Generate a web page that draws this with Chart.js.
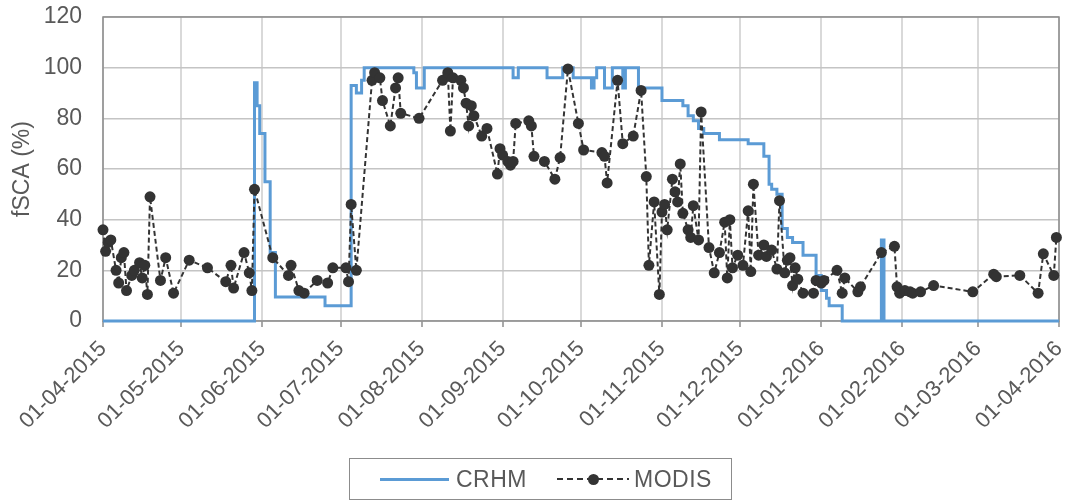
<!DOCTYPE html>
<html>
<head>
<meta charset="utf-8">
<title>fSCA CRHM vs MODIS</title>
<script src="https://cdn.jsdelivr.net/npm/chart.js@4.4.1/dist/chart.umd.min.js"></script>
<style>
  body { margin: 0; background: #fff; }
  #wrap { position: relative; width: 1072px; height: 502px; }
  #legend {
    position: absolute; left: 349px; top: 458px; width: 383px; height: 42px;
    border: 1.5px solid #8c8c8c; box-sizing: border-box;
    display: flex; align-items: center;
    font-family: "Liberation Sans", Arial, sans-serif; font-size: 23px; color: #595959;
    letter-spacing: 0.5px;
  }
  .swatch { position: relative; display: inline-block; flex: none; }
  .crhm { margin-left: 30px; margin-right: 7px; width: 69px; height: 3px; background: #5b9bd5; }
  .modis {
    margin-left: 30px; margin-right: 5px; width: 72px; height: 2px;
    background: repeating-linear-gradient(to right, #333 0 6px, transparent 6px 10px);
  }
  .modis::after {
    content: ""; position: absolute; left: 31px; top: -4.5px;
    width: 11px; height: 11px; border-radius: 50%; background: #333;
  }
</style>
</head>
<body>
<div id="wrap">
  <canvas id="chart" width="1072" height="502"></canvas>
  <div id="legend">
    <span class="swatch crhm"></span><span>CRHM</span>
    <span class="swatch modis"></span><span>MODIS</span>
  </div>
</div>
<script>
// month ticks on the date axis
const tickLabels = ['01-04-2015', '01-05-2015', '01-06-2015', '01-07-2015', '01-08-2015', '01-09-2015',
  '01-10-2015', '01-11-2015', '01-12-2015', '01-01-2016', '01-02-2016', '01-03-2016', '01-04-2016'];
const yTicks = [0, 20, 40, 60, 80, 100, 120];

// CRHM simulated fSCA, value holds from each date until the next one
const crhmDates = ['2015-04-01', '2015-05-29', '2015-05-30', '2015-05-31', '2015-06-02', '2015-06-04',
  '2015-06-06', '2015-06-25', '2015-07-05', '2015-07-07', '2015-07-09', '2015-07-10', '2015-07-29',
  '2015-07-30', '2015-08-02', '2015-09-05', '2015-09-07', '2015-09-18', '2015-09-24', '2015-09-28',
  '2015-10-05', '2015-10-06', '2015-10-07', '2015-10-10', '2015-10-13', '2015-10-17', '2015-10-18',
  '2015-10-23', '2015-11-01', '2015-11-09', '2015-11-11', '2015-11-13', '2015-11-15', '2015-11-17',
  '2015-11-23', '2015-12-04', '2015-12-10', '2015-12-12', '2015-12-13', '2015-12-15', '2015-12-17',
  '2015-12-19', '2015-12-21', '2015-12-25', '2015-12-30', '2016-01-01', '2016-01-03', '2016-01-04',
  '2016-01-09', '2016-01-24', '2016-01-25', '2016-04-01'];
const crhmValues = [0, 94, 85, 74, 55, 27,
  9.5, 6, 93, 90, 95, 100, 98,
  92, 100, 96, 100, 96, 100, 96,
  92, 96, 100, 92, 100, 92, 100,
  92, 87, 85, 81, 79, 76, 74,
  71.5, 70, 65, 54, 52, 50, 36.5,
  33, 31, 26, 18, 12, 9, 6,
  0, 32, 0, 0];

// MODIS observed fSCA
const modisDates = ['2015-04-01', '2015-04-02', '2015-04-03', '2015-04-04', '2015-04-06', '2015-04-07',
  '2015-04-08', '2015-04-09', '2015-04-10', '2015-04-12', '2015-04-13', '2015-04-15', '2015-04-16',
  '2015-04-17', '2015-04-18', '2015-04-19', '2015-04-23', '2015-04-25', '2015-04-28', '2015-05-04',
  '2015-05-11', '2015-05-18', '2015-05-20', '2015-05-21', '2015-05-25', '2015-05-27', '2015-05-28',
  '2015-05-29', '2015-06-05', '2015-06-11', '2015-06-12', '2015-06-15', '2015-06-17', '2015-06-22',
  '2015-06-26', '2015-06-28', '2015-07-03', '2015-07-04', '2015-07-05', '2015-07-07', '2015-07-13',
  '2015-07-14', '2015-07-16', '2015-07-17', '2015-07-20', '2015-07-22', '2015-07-23', '2015-07-24',
  '2015-07-31', '2015-08-09', '2015-08-11', '2015-08-12', '2015-08-13', '2015-08-16', '2015-08-17',
  '2015-08-18', '2015-08-19', '2015-08-20', '2015-08-21', '2015-08-24', '2015-08-26', '2015-08-30',
  '2015-08-31', '2015-09-01', '2015-09-03', '2015-09-04', '2015-09-05', '2015-09-06', '2015-09-11',
  '2015-09-12', '2015-09-13', '2015-09-17', '2015-09-21', '2015-09-23', '2015-09-26', '2015-09-30',
  '2015-10-02', '2015-10-09', '2015-10-10', '2015-10-11', '2015-10-15', '2015-10-17', '2015-10-21',
  '2015-10-24', '2015-10-26', '2015-10-27', '2015-10-29', '2015-10-31', '2015-11-01', '2015-11-02',
  '2015-11-03', '2015-11-05', '2015-11-06', '2015-11-07', '2015-11-08', '2015-11-09', '2015-11-11',
  '2015-11-12', '2015-11-13', '2015-11-15', '2015-11-16', '2015-11-19', '2015-11-21', '2015-11-23',
  '2015-11-25', '2015-11-26', '2015-11-27', '2015-11-28', '2015-11-30', '2015-12-02', '2015-12-04',
  '2015-12-05', '2015-12-06', '2015-12-08', '2015-12-10', '2015-12-11', '2015-12-13', '2015-12-15',
  '2015-12-16', '2015-12-18', '2015-12-19', '2015-12-20', '2015-12-21', '2015-12-22', '2015-12-23',
  '2015-12-25', '2015-12-29', '2015-12-30', '2016-01-01', '2016-01-02', '2016-01-07', '2016-01-09',
  '2016-01-10', '2016-01-15', '2016-01-16', '2016-01-24', '2016-01-29', '2016-01-30', '2016-01-31',
  '2016-02-02', '2016-02-04', '2016-02-05', '2016-02-08', '2016-02-13', '2016-02-28', '2016-03-07',
  '2016-03-08', '2016-03-17', '2016-03-24', '2016-03-26', '2016-03-30', '2016-03-31'];
const modisValues = [36, 27.5, 31, 32, 20, 15,
  25, 27, 12, 18, 20, 23, 17,
  22, 10.5, 49, 16, 25, 11, 24,
  21, 15.5, 22, 13, 27, 19, 12,
  52, 25, 18, 22, 12, 11, 16,
  15, 21, 21, 15.5, 46, 20, 95,
  98, 96, 87, 77, 92, 96, 82,
  80, 95, 98, 75, 96, 95, 92,
  86, 77, 85, 81, 73, 76, 58,
  68, 65.5, 63, 61.5, 63, 78, 79,
  77, 65, 63, 56, 64.5, 99.5, 78,
  67.5, 66.5, 65, 54.5, 95, 70, 73,
  91, 57, 22, 47, 10.5, 43, 46,
  36, 56, 51, 47, 62, 42.5, 36,
  33, 45.5, 32, 82.5, 29, 19, 27,
  39, 17, 40, 21, 26, 22, 43.5,
  19.5, 54, 26, 30, 25.5, 28, 20.5,
  47.5, 19, 24, 25, 14, 21, 16.5,
  11, 11, 16, 15, 16, 20, 11,
  17, 11.5, 13.5, 27, 29.5, 13.5, 11,
  12, 11.5, 11, 11.5, 14, 11.5, 18.5,
  17.5, 18, 11, 26.5, 18, 33];

const start = Date.UTC(2015, 3, 1);
const DAY = 86400000;
// 'YYYY-MM-DD' -> days since 01-04-2015
const dayOf = (s) => {
  const [y, m, d] = s.split('-').map(Number);
  return (Date.UTC(y, m - 1, d) - start) / DAY;
};
// 'DD-MM-YYYY' -> days since 01-04-2015
const dayOfLabel = (s) => {
  const [d, m, y] = s.split('-').map(Number);
  return (Date.UTC(y, m - 1, d) - start) / DAY;
};
const tickDays = tickLabels.map(dayOfLabel);

const crhmData = crhmDates.map((d, i) => ({ x: dayOf(d), y: crhmValues[i] }));
const modisData = modisDates.map((d, i) => ({ x: dayOf(d), y: modisValues[i] }));

const FONT = '"Liberation Sans", Arial, sans-serif';
const TEXT = '#595959';

// box round the plot area, under the lines
const plotFrame = {
  id: 'plotFrame',
  beforeDatasetsDraw(chart) {
    const { ctx, chartArea: a } = chart;
    ctx.save();
    ctx.strokeStyle = '#8c8c8c';
    ctx.lineWidth = 1.5;
    ctx.strokeRect(a.left, a.top, a.right - a.left, a.bottom - a.top);
    ctx.restore();
  }
};

new Chart(document.getElementById('chart'), {
  type: 'line',
  data: {
    datasets: [
      {
        label: 'CRHM',
        data: crhmData,
        stepped: 'before',
        borderColor: '#5b9bd5',
        borderWidth: 3,
        pointRadius: 0,
        fill: false,
        clip: false,
        order: 1,
      },
      {
        label: 'MODIS',
        data: modisData,
        borderColor: '#333333',
        borderWidth: 2,
        borderDash: [5, 3],
        pointRadius: 5.5,
        pointBackgroundColor: '#333333',
        pointBorderWidth: 0,
        tension: 0,
        fill: false,
        clip: false,
        order: 0,
      },
    ],
  },
  options: {
    responsive: false,
    animation: false,
    layout: { padding: { left: 0, right: 13, top: 17, bottom: 0 } },
    plugins: {
      legend: { display: false },
      tooltip: { enabled: false },
    },
    scales: {
      x: {
        type: 'linear',
        min: tickDays[0],
        max: tickDays[tickDays.length - 1],
        afterBuildTicks: (s) => { s.ticks = tickDays.map((v) => ({ value: v })); },
        afterFit: (s) => {
          s.height = 181;
          s.paddingLeft = 0;
          s.paddingRight = 0;
        },
        border: { display: false },
        grid: { color: '#d9d9d9', lineWidth: 2, tickColor: '#8c8c8c', tickLength: 6, tickWidth: 1.5 },
        ticks: {
          autoSkip: false,
          minRotation: 45,
          maxRotation: 45,
          padding: 9,
          color: TEXT,
          font: { family: FONT, size: 22 },
          callback: (v, i) => tickLabels[i],
        },
      },
      y: {
        min: 0,
        max: 120,
        afterBuildTicks: (s) => { s.ticks = yTicks.map((v) => ({ value: v })); },
        afterFit: (s) => {
          s.width = 103;
          s.paddingTop = 0;
          s.paddingBottom = 0;
        },
        border: { display: false },
        grid: { color: '#c4c4c4', lineWidth: 1.5, drawTicks: false },
        ticks: {
          padding: 21,
          color: TEXT,
          font: { family: FONT, size: 23 },
        },
        title: {
          display: true,
          text: 'fSCA (%)',
          color: TEXT,
          font: { family: FONT, size: 23 },
          padding: { top: 9, bottom: 0 },
        },
      },
    },
  },
  plugins: [plotFrame],
});
</script>
</body>
</html>
